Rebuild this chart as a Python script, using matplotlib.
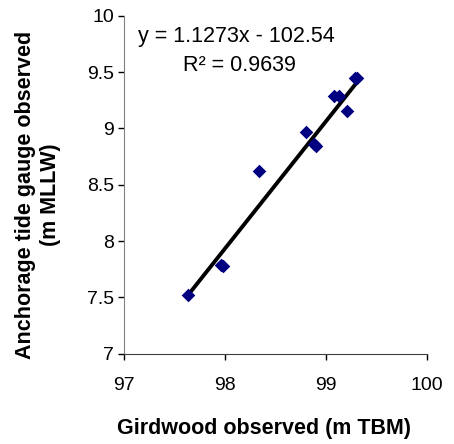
import matplotlib
matplotlib.use("Agg")
import matplotlib.pyplot as plt
import numpy as np

# Girdwood vs Anchorage observed water levels
girdwood = [97.63, 97.96, 97.98, 98.34, 98.80, 98.88, 98.90, 99.08, 99.13, 99.21, 99.29, 99.31]
anchorage = [7.52, 7.79, 7.78, 8.62, 8.97, 8.86, 8.84, 9.29, 9.29, 9.15, 9.45, 9.45]

slope = 1.1273
intercept = -102.54
r_squared = 0.9639

x_ticks = [97, 98, 99, 100]
y_ticks = [7, 7.5, 8, 8.5, 9, 9.5, 10]
y_labels = ["7", "7.5", "8", "8.5", "9", "9.5", "10"]

plt.rcParams["font.family"] = ["Liberation Sans", "DejaVu Sans"]

W, H = 454, 444
fig = plt.figure(figsize=(W / 100, H / 100), dpi=100)
ax = fig.add_axes([0.274, 0.2034, 0.666, 0.7612])

ax.scatter(girdwood, anchorage, marker="D", s=48, color="#000080", zorder=3, linewidths=0)

# Linear trendline
xl = np.array([min(girdwood), max(girdwood)])
ax.plot(xl, slope * xl + intercept, color="black", lw=2.8, zorder=2)

ax.text(0.046, 0.923, "y = %.4fx - %.2f" % (slope, -intercept), transform=ax.transAxes,
        fontsize=15.5, ha="left", va="baseline")
ax.text(0.193, 0.837, "R² = %.4f" % r_squared, transform=ax.transAxes,
        fontsize=15.5, ha="left", va="baseline")

ax.set_xlim(97, 100)
ax.set_ylim(7, 10)
ax.set_xticks(x_ticks)
ax.set_yticks(y_ticks)
ax.set_yticklabels(y_labels)
ax.tick_params(labelsize=14, length=4, width=1, colors="black", direction="out")
ax.tick_params(axis="x", pad=13)

for side in ["top", "right"]:
    ax.spines[side].set_visible(False)
ax.spines["left"].set_color("#808080")
ax.spines["bottom"].set_color("#404040")

fig.text(264 / W, 1 - 428 / H, "Girdwood observed (m TBM)", fontsize=15.5,
         fontweight="bold", ha="center", va="center")
fig.text(38 / W, 1 - 195 / H, "Anchorage tide gauge observed\n(m MLLW)", fontsize=15.5,
         fontweight="bold", ha="center", va="center", rotation=90, linespacing=1.3)

fig.savefig("out.png", dpi=100)
